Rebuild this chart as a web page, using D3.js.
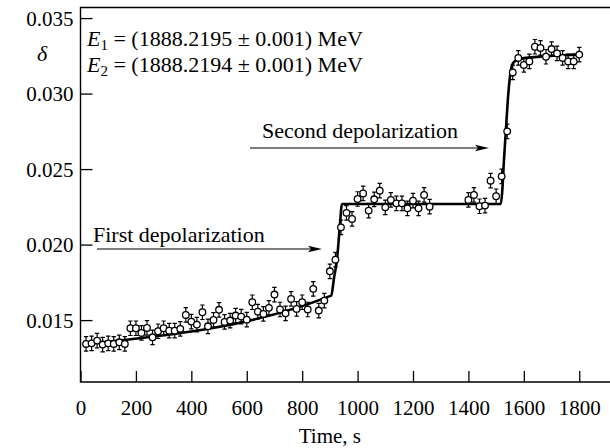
<!DOCTYPE html>
<html>
<head>
<meta charset="utf-8">
<script src="https://cdn.jsdelivr.net/npm/d3@7"></script>
<style>
  html, body { margin: 0; padding: 0; background: #fff; }
  svg { display: block; font-family: "Liberation Serif", "DejaVu Serif", serif; }
</style>
</head>
<body>
<svg id="chart" width="610" height="448"></svg>
<script>
// ---- data ----
const times = [20,40,60,80,100,120,140,160,180,200,220,240,260,280,300,320,340,360,380,400,
  420,440,460,480,500,520,540,560,580,600,620,640,660,680,700,720,740,760,780,800,
  820,840,860,880,900,920,940,960,980,1000,1020,1040,1060,1080,1100,1120,1140,1160,1180,1200,
  1220,1240,1260,1400,1420,1440,1460,1480,1500,1520,1540,1560,1580,1600,1620,1640,1660,1680,1700,1720,
  1740,1760,1780,1800];
const deltas = [0.01342,0.01346,0.01364,0.01338,0.01346,0.01342,0.01353,0.01342,0.01446,0.01446,
  0.01415,0.01448,0.01386,0.01426,0.01446,0.01430,0.01430,0.01442,0.01534,0.01490,
  0.01470,0.01552,0.01459,0.01501,0.01568,0.01488,0.01497,0.01530,0.01523,0.01503,
  0.01618,0.01556,0.01541,0.01581,0.01669,0.01570,0.01545,0.01640,0.01574,0.01618,
  0.01570,0.01707,0.01563,0.01629,0.01823,0.01900,0.02114,0.02210,0.02170,0.02302,
  0.02339,0.02225,0.02300,0.02357,0.02247,0.02296,0.02273,0.02273,0.02240,0.02291,
  0.02240,0.02329,0.02251,0.02296,0.02329,0.02254,0.02258,0.02423,0.02320,0.02452,
  0.02750,0.03140,0.03236,0.03190,0.03213,0.03310,0.03302,0.03244,0.03295,0.03266,
  0.03236,0.03213,0.03213,0.03258];
const deltaError = 0.00048;
const fitTimes = [10,905,915,926,935,944,1517,1522,1528,1535,1542,1548,1553,1558,1565,1580,1600,1800];
const fitDeltas = [0.01340,0.01662,0.0178,0.01905,0.0210,0.02269,0.02269,0.0235,0.0255,0.0275,0.0295,0.0308,0.0315,0.0319,0.0321,0.03225,0.03235,0.03258];
const xTicks = [0,200,400,600,800,1000,1200,1400,1600,1800];
const yTicks = [0.015,0.020,0.025,0.030,0.035];
const xTitle = "Time, s";
const yTitle = "δ";
const legendLines = [
  {sub: "1", value: "(1888.2195 ± 0.001) MeV"},
  {sub: "2", value: "(1888.2194 ± 0.001) MeV"}
];
const annotations = [
  {text: "First depolarization", tx: 93, ty: 242, x1: 97, x2: 322, y: 249},
  {text: "Second depolarization", tx: 262, ty: 138, x1: 250, x2: 489, y: 148}
];

// ---- layout ----
const svg = d3.select("#chart");
const mLeft = 80.5, mRight = 610, mTop = 7.5, mBottom = 382;
const x = d3.scaleLinear().domain([0, 1911]).range([mLeft, mRight]);
const y = d3.scaleLinear().domain([0.0109, 0.0357]).range([mBottom, mTop]);

// frame
svg.append("path")
  .attr("d", `M${mRight},${mTop}H${mLeft}V${mBottom}H${mRight}`)
  .attr("fill", "none").attr("stroke", "#000").attr("stroke-width", 1.4);

// axes (inward ticks)
const xAxis = d3.axisBottom(x).tickValues(xTicks).tickSize(-11).tickPadding(0).tickFormat(d3.format("d"));
const gx = svg.append("g").attr("transform", `translate(0,${mBottom})`).call(xAxis);
gx.select(".domain").remove();
gx.selectAll(".tick line").attr("stroke", "#000").attr("stroke-width", 1.3);
gx.selectAll(".tick text").attr("y", 33).attr("dy", 0).attr("font-size", 21)
  .attr("font-family", "Liberation Serif").attr("fill", "#000");

const yAxis = d3.axisLeft(y).tickValues(yTicks).tickSize(-12).tickPadding(0).tickFormat(d3.format(".3f"));
const gy = svg.append("g").attr("transform", `translate(${mLeft},0)`).call(yAxis);
gy.select(".domain").remove();
gy.selectAll(".tick line").attr("stroke", "#000").attr("stroke-width", 1.3);
gy.selectAll(".tick text").attr("x", -7).attr("dy", "0.34em").attr("font-size", 21)
  .attr("font-family", "Liberation Serif").attr("fill", "#000");

// titles
svg.append("text").attr("x", (x(0) + x(1800)) / 2).attr("y", 443)
  .attr("text-anchor", "middle").attr("font-size", 21).text(xTitle);
svg.append("text").attr("x", 42).attr("y", 61)
  .attr("text-anchor", "middle").attr("font-size", 22).attr("font-style", "italic").text(yTitle);

// fit curve
const line = d3.line().x(d => x(d[0])).y(d => y(d[1])).curve(d3.curveMonotoneX);
svg.append("path").datum(d3.zip(fitTimes, fitDeltas))
  .attr("d", line).attr("fill", "none").attr("stroke", "#000").attr("stroke-width", 2.6)
  .attr("stroke-linejoin", "round");

// error bars + points
const pts = d3.zip(times, deltas);
const gp = svg.append("g");
const cap = 2.2;
gp.selectAll("path.err").data(pts).join("path").attr("class", "err")
  .attr("d", d => {
    const cx = x(d[0]), y1 = y(d[1] + deltaError), y2 = y(d[1] - deltaError);
    return `M${cx},${y1}V${y2}M${cx - cap},${y1}H${cx + cap}M${cx - cap},${y2}H${cx + cap}`;
  })
  .attr("stroke", "#000").attr("stroke-width", 1.2).attr("fill", "none");
gp.selectAll("circle").data(pts).join("circle")
  .attr("cx", d => x(d[0])).attr("cy", d => y(d[1])).attr("r", 3.3)
  .attr("fill", "#fff").attr("stroke", "#000").attr("stroke-width", 1.3);

// legend
legendLines.forEach((l, i) => {
  const t = svg.append("text").attr("x", 87).attr("y", 46 + i * 26).attr("font-size", 22);
  t.append("tspan").attr("font-style", "italic").text("E");
  t.append("tspan").attr("font-size", 15).attr("dy", 4).text(l.sub);
  t.append("tspan").attr("dy", -4).text(" = " + l.value);
});

// annotations with arrows
annotations.forEach(a => {
  svg.append("text").attr("x", a.tx).attr("y", a.ty).attr("font-size", 22).text(a.text);
  svg.append("line").attr("x1", a.x1).attr("x2", a.x2 - 6).attr("y1", a.y).attr("y2", a.y)
    .attr("stroke", "#000").attr("stroke-width", 1.2);
  svg.append("path")
    .attr("d", `M${a.x2},${a.y}L${a.x2 - 14},${a.y - 3.2}L${a.x2 - 11},${a.y}L${a.x2 - 14},${a.y + 3.2}Z`)
    .attr("fill", "#000");
});
</script>
</body>
</html>
